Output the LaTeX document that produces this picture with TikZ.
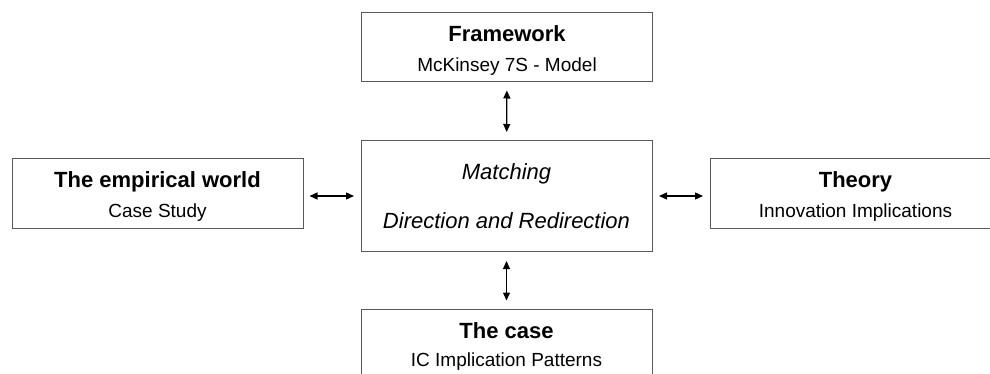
\documentclass[tikz,border=0pt]{standalone}
\usepackage{fontspec}
\setmainfont{Liberation Sans}
\usetikzlibrary{arrows.meta}
\newcommand{\boxtitle}[1]{{\fontsize{22}{30}\selectfont\bfseries\rule{0pt}{22pt}#1}}

\begin{document}
\begin{tikzpicture}[x=1pt,y=-1pt,
  box/.style={draw=black!65,line width=1pt,minimum width=291pt,minimum height=69pt,
    inner sep=0pt,align=center,font=\fontsize{19}{30}\selectfont},
  link/.style={{Triangle[length=8pt,width=7pt]}-{Triangle[length=8pt,width=7pt]},
    line width=1.3pt}]
\clip (0,0) rectangle (990,374);
\node[box] (frame) at (507,47.5) {\boxtitle{Framework}\\McKinsey 7S - Model};
\node[box] (world) at (157.5,193.5) {\boxtitle{The empirical world}\\Case Study};
\node[box,minimum height=110pt,font=\fontsize{22}{49}\selectfont\itshape] (match) at (506.5,196)
  {Matching\\Direction and Redirection};
\node[box] (theory) at (855.5,193.5) {\boxtitle{Theory}\\Innovation Implications};
\node[box,font=\fontsize{19}{28}\selectfont] (case) at (506.5,343.5) {\boxtitle{The case}\\IC Implication Patterns};
% connectors
\draw[link,shorten <=8pt,shorten >=8.5pt] (frame) -- (match);
\draw[link,shorten <=9.5pt,shorten >=8pt] (match) -- (case);
\draw[link,shorten <=6.5pt,shorten >=6pt] (match.west) -- (match.west -| world.east);
\draw[link,shorten <=6.5pt,shorten >=6.5pt] (match.east) -- (match.east -| theory.west);
\end{tikzpicture}
\end{document}
